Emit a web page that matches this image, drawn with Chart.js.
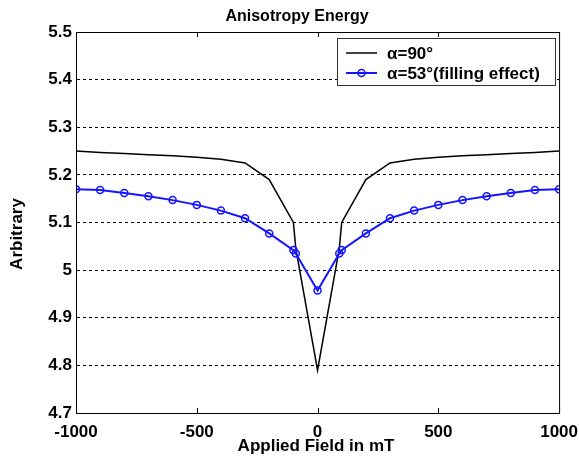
<!DOCTYPE html>
<html>
<head>
<meta charset="utf-8">
<script src="https://cdn.jsdelivr.net/npm/chart.js@4"></script>
<style>
  body { margin: 0; background: #fff; }
  canvas { display: block; }
</style>
</head>
<body>
<canvas id="energyChart" width="579" height="462"></canvas>
<script>
// applied field (mT) and the two anisotropy energy curves
const fieldValues = [-1000, -900, -800, -700, -600, -500, -400, -300, -200, -100, -90, 0,
  90, 100, 200, 300, 400, 500, 600, 700, 800, 900, 1000];
const energy90 = [5.250, 5.247, 5.245, 5.242, 5.240, 5.237, 5.233, 5.225, 5.190, 5.100, 5.045, 4.790,
  5.045, 5.100, 5.190, 5.225, 5.233, 5.237, 5.240, 5.242, 5.245, 5.247, 5.250];
const energy53 = [5.170, 5.168, 5.162, 5.155, 5.147, 5.137, 5.125, 5.109, 5.077, 5.042, 5.035, 4.957,
  5.035, 5.042, 5.077, 5.109, 5.125, 5.137, 5.147, 5.155, 5.162, 5.168, 5.170];
const seriesLabels = ['\u03B1=90\u00B0', '\u03B1=53\u00B0(filling effect)'];
const xTickMarks = [-500, 0, 500];

const toPoints = (ys) => ys.map((y, i) => ({ x: fieldValues[i], y: y }));
const boldFont = (px) => 'bold ' + px + 'px "Liberation Sans", Arial, sans-serif';
const tickFont = { family: '"Liberation Sans", Arial', size: 17, weight: 'bold' };

// border, inner tick marks, titles and legend box (matlab look)
const frame = {
  id: 'frame',
  afterDatasetsDraw(chart) {
    const { ctx, chartArea: a, scales } = chart;
    ctx.save();
    ctx.strokeStyle = '#000';
    ctx.lineWidth = 1;
    ctx.setLineDash([]);
    ctx.strokeRect(a.left + 0.5, a.top + 0.5, a.right - a.left, a.bottom - a.top);
    xTickMarks.forEach(v => {
      const px = Math.round(scales.x.getPixelForValue(v)) + 0.5;
      ctx.beginPath();
      ctx.moveTo(px, a.bottom); ctx.lineTo(px, a.bottom - 5);
      ctx.moveTo(px, a.top); ctx.lineTo(px, a.top + 5);
      ctx.stroke();
    });

    ctx.fillStyle = '#000';
    ctx.textAlign = 'center';
    ctx.textBaseline = 'middle';
    ctx.font = boldFont(16);
    ctx.fillText('Anisotropy Energy', 297, 17);
    ctx.font = boldFont(17);
    ctx.fillText('Applied Field in mT', 316, 446);
    ctx.save();
    ctx.translate(17, 234);
    ctx.rotate(-Math.PI / 2);
    ctx.fillText('Arbitrary', 0, 0);
    ctx.restore();

    // legend
    const lx = 337, ly = 38, lw = 218, lh = 47;
    ctx.fillStyle = '#fff';
    ctx.fillRect(lx, ly, lw, lh);
    ctx.strokeStyle = '#333';
    ctx.strokeRect(lx + 0.5, ly + 0.5, lw, lh);
    const rows = [53, 73];
    chart.data.datasets.forEach((ds, i) => {
      const y = rows[i];
      ctx.strokeStyle = ds.borderColor;
      ctx.lineWidth = ds.borderWidth;
      ctx.beginPath();
      ctx.moveTo(346, y); ctx.lineTo(377, y);
      ctx.stroke();
      if (ds.pointRadius > 0) {
        ctx.lineWidth = ds.pointBorderWidth;
        ctx.beginPath();
        ctx.arc(361.5, y, ds.pointRadius, 0, Math.PI * 2);
        ctx.stroke();
      }
      ctx.fillStyle = '#000';
      ctx.textAlign = 'left';
      ctx.font = boldFont(17);
      ctx.fillText(seriesLabels[i], 387, y + 1);
    });
    ctx.restore();
  }
};

const ctx = document.getElementById('energyChart').getContext('2d');
new Chart(ctx, {
  type: 'line',
  data: {
    datasets: [{
      label: seriesLabels[0],
      data: toPoints(energy90),
      borderColor: '#000',
      borderWidth: 1.5,
      pointRadius: 0,
      tension: 0,
      order: 1
    }, {
      label: seriesLabels[1],
      data: toPoints(energy53),
      borderColor: '#1414ff',
      borderWidth: 2,
      pointRadius: 3.5,
      pointBorderWidth: 1.5,
      pointBorderColor: '#1414ff',
      pointBackgroundColor: 'rgba(0,0,0,0)',
      tension: 0,
      order: 0
    }]
  },
  options: {
    responsive: false,
    devicePixelRatio: 1,
    animation: false,
    layout: { padding: { top: 32, right: 18, left: 0, bottom: 0 } },
    plugins: { legend: { display: false }, tooltip: { enabled: false } },
    scales: {
      x: {
        type: 'linear',
        min: -1000, max: 1000,
        ticks: { stepSize: 500, color: '#000', font: tickFont, padding: 1, maxRotation: 0,
          callback: (v) => String(v) },
        grid: { display: false },
        border: { display: false },
        afterFit: (s) => { s.height = 49; }
      },
      y: {
        min: 4.7, max: 5.5,
        ticks: {
          stepSize: 0.1, color: '#000', padding: 4, font: tickFont,
          callback: (v) => String(+v.toFixed(1))
        },
        grid: {
          drawTicks: false,
          color: (c) => (c.tick && (Math.abs(c.tick.value - 4.7) < 1e-6 || Math.abs(c.tick.value - 5.5) < 1e-6)) ? 'rgba(0,0,0,0)' : '#000',
          lineWidth: 1
        },
        border: { display: true, color: 'rgba(0,0,0,0)', dash: [3, 3] },
        afterFit: (s) => { s.width = 76; }
      }
    }
  },
  plugins: [frame]
});
</script>
</body>
</html>
